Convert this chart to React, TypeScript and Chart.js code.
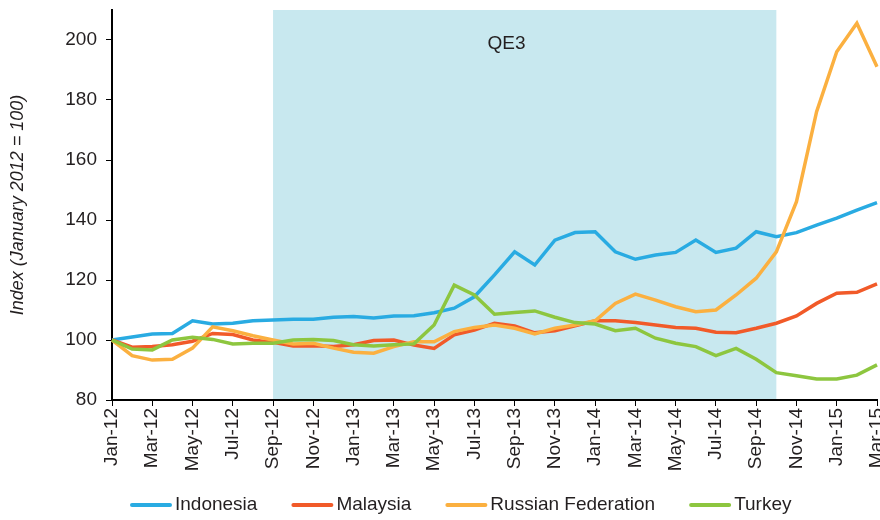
import { useEffect, useRef } from 'react';
import { Chart, registerables } from 'chart.js';

Chart.register(...registerables);

const months = [
  'Jan-12', 'Feb-12', 'Mar-12', 'Apr-12', 'May-12', 'Jun-12', 'Jul-12', 'Aug-12', 'Sep-12', 'Oct-12', 'Nov-12', 'Dec-12',
  'Jan-13', 'Feb-13', 'Mar-13', 'Apr-13', 'May-13', 'Jun-13', 'Jul-13', 'Aug-13', 'Sep-13', 'Oct-13', 'Nov-13', 'Dec-13',
  'Jan-14', 'Feb-14', 'Mar-14', 'Apr-14', 'May-14', 'Jun-14', 'Jul-14', 'Aug-14', 'Sep-14', 'Oct-14', 'Nov-14', 'Dec-14',
  'Jan-15', 'Feb-15', 'Mar-15',
];

const indonesia = [
  100, 101, 102, 102.2, 106.4, 105.3, 105.6, 106.4, 106.7, 106.9, 106.9, 107.6,
  107.8, 107.3, 108, 108.1, 109.1, 110.6, 114.4, 121.7, 129.4, 125, 133.3, 135.8,
  136.1, 129.4, 126.9, 128.3, 129.2, 133.3, 129.2, 130.6, 136.1, 134.4, 135.8, 138.3,
  140.6, 143.3, 145.8,
];

const malaysia = [
  100, 97.6, 97.8, 98.4, 99.6, 102.2, 101.8, 100, 99.2, 98, 98.1, 97.8,
  98.4, 99.8, 100, 98.3, 97.2, 101.7, 103.3, 105.6, 104.7, 102.4, 103.1, 104.7,
  106.4, 106.4, 105.8, 105, 104.2, 103.9, 102.6, 102.4, 103.9, 105.6, 108, 112.2,
  115.6, 115.9, 118.7,
];

const russia = [
  100, 94.8, 93.3, 93.6, 97.3, 104.4, 103.1, 101.4, 100, 98.7, 98.9, 97.3,
  95.9, 95.6, 97.8, 99.4, 99.4, 102.8, 104.2, 105, 103.9, 102, 103.9, 105,
  106.4, 112.2, 115.3, 113.3, 111.1, 109.4, 110, 115, 120.6, 129.4, 146.1, 176.1,
  196.1, 205.6, 191.1,
];

const turkey = [
  100, 97, 96.7, 100, 100.9, 100.2, 98.7, 98.9, 98.9, 100, 100.2, 99.8,
  98.4, 98, 98.4, 98.7, 105, 118.3, 115, 108.6, 109.2, 109.7, 107.6, 105.8,
  105.3, 103.1, 103.9, 100.6, 98.9, 97.8, 94.8, 97.2, 93.6, 89.1, 88.1, 87,
  87, 88.3, 91.7,
];

const seriesNames = ['Indonesia', 'Malaysia', 'Russian Federation', 'Turkey'];
const seriesColors = ['#29ABE2', '#F15A29', '#FBB040', '#8DC63F'];
const seriesValues = [indonesia, malaysia, russia, turkey];

const qeStart = 'Sep-12';
const qeEnd = 'Oct-14';
const qeText = 'QE3';
const qeTextAt = 19.6; // month index where the label sits
const qeTextY = 198.7; // index value where the label sits

const yMin = 80;
const yMax = 210;
const yStep = 20;
const yTitle = 'Index (January 2012 = 100)';

const FONT = "'Liberation Sans', Arial, Helvetica, sans-serif";
const TEXT = '#231F20';

const qePlugin = {
  id: 'qeShade',
  beforeDraw(chart: any) {
    const { ctx, chartArea, scales } = chart;
    const x = scales.x;
    const y = scales.y;
    const x1 = x.getPixelForValue(months.indexOf(qeStart));
    const x2 = x.getPixelForValue(months.indexOf(qeEnd));
    ctx.save();
    ctx.fillStyle = '#C8E8EF';
    ctx.fillRect(x1, chartArea.top, x2 - x1, chartArea.bottom - chartArea.top);
    ctx.fillStyle = TEXT;
    ctx.font = `19px ${FONT}`;
    ctx.textAlign = 'center';
    ctx.textBaseline = 'middle';
    ctx.fillText(qeText, x.getPixelForValue(qeTextAt), y.getPixelForValue(qeTextY));
    ctx.restore();
  },
};

const legendPlugin = {
  id: 'lineLegend',
  afterDraw(chart: any) {
    const { ctx } = chart;
    ctx.save();
    ctx.font = `19px ${FONT}`;
    ctx.textBaseline = 'middle';
    ctx.textAlign = 'left';
    let x = 130;
    const y = 505;
    chart.data.datasets.forEach((ds: any) => {
      ctx.strokeStyle = ds.borderColor;
      ctx.lineWidth = 4;
      ctx.lineCap = 'round';
      ctx.beginPath();
      ctx.moveTo(x + 2, y);
      ctx.lineTo(x + 40, y);
      ctx.stroke();
      x += 45;
      ctx.fillStyle = TEXT;
      ctx.fillText(ds.label, x, y);
      x += ctx.measureText(ds.label).width + 34;
    });
    ctx.restore();
  },
};

export default function App() {
  const ref = useRef<HTMLCanvasElement | null>(null);

  useEffect(() => {
    document.body.style.margin = '0';
    if (!ref.current) return;
    const chart = new Chart(ref.current, {
      type: 'line',
      data: {
        labels: months,
        datasets: seriesNames.map((name, i) => ({
          label: name,
          data: seriesValues[i],
          borderColor: seriesColors[i],
          backgroundColor: seriesColors[i],
          borderWidth: 3.5,
          pointRadius: 0,
          tension: 0,
          fill: false,
          order: seriesNames.length - i,
        })),
      },
      options: {
        responsive: false,
        animation: false,
        layout: { padding: { top: 10, right: 3, left: 0, bottom: 0 } },
        plugins: {
          legend: { display: false },
          tooltip: { enabled: false },
        },
        scales: {
          x: {
            type: 'category',
            offset: false,
            grid: { display: true, drawOnChartArea: false, drawTicks: true, tickLength: 6, color: '#000', lineWidth: 1 },
            border: { display: true, color: '#000', width: 2 },
            ticks: {
              autoSkip: false,
              minRotation: 90,
              maxRotation: 90,
              padding: 2,
              color: TEXT,
              font: { family: FONT, size: 19 },
            },
            afterBuildTicks: (s: any) => {
              s.ticks = s.ticks.filter((t: any) => t.value % 2 === 0);
            },
            afterFit: (s: any) => {
              s.height = 120;
              s.paddingLeft = 0;
              s.paddingRight = 0;
            },
          },
          y: {
            type: 'linear',
            min: yMin,
            max: yMax,
            grid: { display: true, drawOnChartArea: false, drawTicks: true, tickLength: 6, color: '#000', lineWidth: 1 },
            border: { display: true, color: '#000', width: 2 },
            ticks: {
              stepSize: yStep,
              padding: 9,
              color: TEXT,
              font: { family: FONT, size: 19 },
            },
            title: {
              display: true,
              text: yTitle,
              color: TEXT,
              font: { family: FONT, size: 18, style: 'italic' },
              padding: { top: 7, bottom: 0 },
            },
            afterBuildTicks: (s: any) => {
              s.ticks = s.ticks.filter((t: any) => (t.value - yMin) % yStep === 0);
            },
            afterFit: (s: any) => {
              s.width = 112;
              s.paddingTop = 0;
              s.paddingBottom = 0;
            },
          },
        },
      },
      plugins: [qePlugin, legendPlugin],
    });
    return () => chart.destroy();
  }, []);

  return (
    <div style={{ width: 880, height: 520 }}>
      <canvas ref={ref} width={880} height={520} />
    </div>
  );
}
